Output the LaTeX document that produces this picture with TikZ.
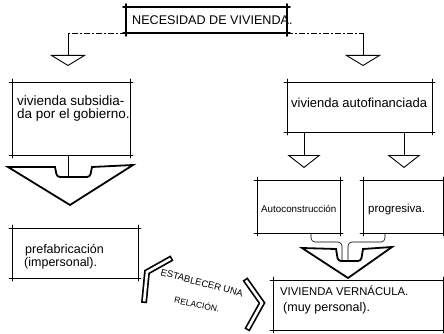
\documentclass[tikz,border=0pt]{standalone}
\usepackage{fontspec}
\setmainfont{Liberation Sans}
\usetikzlibrary{arrows.meta,calc}
\newcommand\skbox[2][]{%
  \draw[skline,#1] ([xshift=-3pt]#2.north west) -- ([xshift=3pt]#2.north east);
  \draw[skline,#1] ([xshift=-3pt]#2.south west) -- ([xshift=3pt]#2.south east);
  \draw[skline,#1] ([yshift=3pt]#2.north west) -- ([yshift=-3pt]#2.south west);
  \draw[skline,#1] ([yshift=3pt]#2.north east) -- ([yshift=-3pt]#2.south east);}
\begin{document}
\begin{tikzpicture}[x=1pt,y=-1pt,
  box/.style={draw=none, inner sep=0pt, outer sep=0pt, anchor=north west},
  skline/.style={line width=0.8pt, line cap=round},
  txt/.style={inner sep=0pt, anchor=base west},
  smallarrow/.style={line width=0.6pt, -{Triangle[open, width=36pt, length=11pt, line width=0.9pt]}},
  smallarrowb/.style={line width=0.6pt, -{Triangle[open, width=33pt, length=13pt, line width=0.9pt]}},
  dashline/.style={line width=0.6pt, dash pattern=on 6pt off 2pt on 2pt off 2pt},
  thinline/.style={line width=0.6pt},
  bigarrow/.style={line width=1.8pt, line join=miter, fill=white},
  chevout/.style={line width=6pt, line join=miter},
  chevin/.style={white, line width=2.6pt, line join=miter, shorten <=1.6pt, shorten >=1.6pt}
]
\useasboundingbox (0,0) rectangle (444,334);

% boxes
\node[box, minimum width=161pt, minimum height=26pt] (need) at (126,7) {};
\node[box, minimum width=118pt, minimum height=73pt] (subs) at (12,82) {};
\node[box, minimum width=145pt, minimum height=50pt] (auto) at (287,82) {};
\node[box, minimum width=126pt, minimum height=50pt] (pref) at (12,228) {};
\node[box, minimum width=83pt, minimum height=53pt] (acon) at (257,180) {};
\node[box, minimum width=80pt, minimum height=53pt] (prog) at (363,180) {};
\node[box, minimum width=170pt, minimum height=50pt] (vern) at (273,280) {};

\skbox[line width=1.8pt]{need}
\skbox{subs}
\skbox{auto}
\skbox{pref}
\skbox{acon}
\skbox{prog}
\skbox{vern}

% texts
\node[txt, font=\fontsize{12.6}{15}\selectfont] (needt) at (132,25) {NECESIDAD DE VIVIENDA.};
\node[txt, font=\fontsize{13.5}{15}\selectfont] (subs1) at (17,106) {vivienda subsidia-};
\node[txt, font=\fontsize{13.5}{15}\selectfont] (subs2) at (17,119) {da por el gobierno.};
\node[txt, font=\fontsize{13}{15}\selectfont] (autot) at (291,107) {vivienda autofinanciada};
\node[txt, font=\fontsize{12.5}{15}\selectfont] (pref1) at (25,253) {prefabricación};
\node[txt, font=\fontsize{12.5}{15}\selectfont] (pref2) at (24,266) {(impersonal).};
\node[txt, font=\fontsize{9.8}{12}\selectfont] (acont) at (261,212) {Autoconstrucción};
\node[txt, font=\fontsize{11.5}{12}\selectfont] (progt) at (368,212) {progresiva.};
\node[txt, font=\fontsize{11.3}{13}\selectfont] (vern1) at (280,295) {VIVIENDA VERNÁCULA.};
\node[txt, font=\fontsize{12.5}{14}\selectfont] (vern2) at (283,311) {(muy personal).};
\node[inner sep=0pt, rotate=-15, font=\fontsize{9.5}{10}\selectfont] (estab) at (202,283) {ESTABLECER UNA};
\node[inner sep=0pt, rotate=-12, font=\fontsize{8.5}{9}\selectfont] (relac) at (197,304) {RELACIÓN.};

% top connectors
\coordinate (ltip) at (68,66);
\coordinate (rtip) at (363,66);
\draw[dashline] (need.south west) -- (need.south west -| ltip);
\draw[dashline] (need.south east) -- (need.south east -| rtip);
\draw[smallarrow] (need.south west -| ltip) -- (ltip);
\draw[smallarrow] (need.south east -| rtip) -- (rtip);

% right small arrows
\coordinate (a1tip) at (304,168);
\coordinate (a2tip) at (404,168);
\draw[smallarrowb] (auto.south -| a1tip) -- (a1tip);
\draw[smallarrowb] (auto.south -| a2tip) -- (a2tip);

% left big arrow
\coordinate (bl) at (68,176);
\draw[bigarrow] (8,167) -- (55,167) {[rounded corners=3pt] -- (57,177) -- (90,177)} -- (92,167) -- (133,165) -- (70,205) -- cycle;
\draw[thinline] (subs.south -| bl) -- (bl);

% bracket and right big arrow
\coordinate (bk1) at (311,242);
\coordinate (bk2) at (385,242);
\coordinate (st1) at (342,261);
\coordinate (st2) at (348,261);
\draw[bigarrow] (302,248) -- (336,249) {[rounded corners=3pt] -- (338,261) -- (361,261)} -- (363,249) -- (392,247) -- (348,278) -- cycle;
\draw[thinline, rounded corners=4pt] (acon.south -| bk1) -- (bk1) -- (bk1 -| st1) -- (st1);
\draw[thinline, rounded corners=4pt] (prog.south -| bk2) -- (bk2) -- (bk2 -| st2) -- (st2);

% chevrons
\draw[chevout] (172,258) -- (147,272) -- (144,303);
\draw[chevin] (172,258) -- (147,272) -- (144,303);
\draw[chevout] (245,279) -- (262,303) -- (247,330);
\draw[chevin] (245,279) -- (262,303) -- (247,330);
\end{tikzpicture}
\end{document}
